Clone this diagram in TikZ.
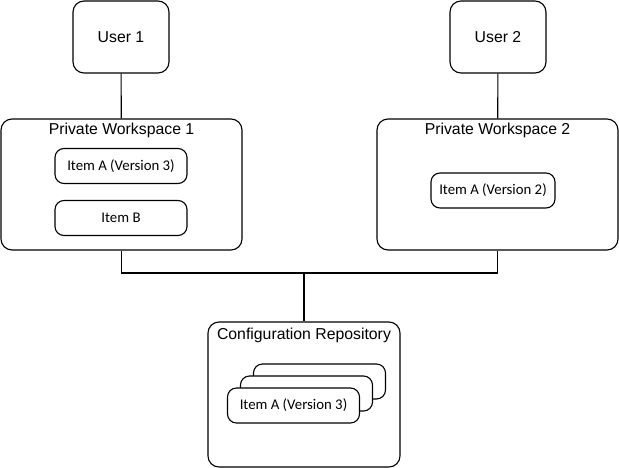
\documentclass[tikz,border=0pt]{standalone}
\usepackage{fontspec}
\setmainfont{Liberation Sans}
\newfontfamily\itemfont{Carlito}
\usepackage{tikz}
\usetikzlibrary{
  arrows.meta,
  positioning
}

\begin{document}
\begin{tikzpicture}[
    x=1pt, y=-1pt,
    line width=1.1pt,
    font=\fontsize{15.8}{18}\selectfont,
    box/.style={draw, rounded corners=11pt, inner sep=0pt, fill=white},
    user/.style={box, minimum width=96pt, minimum height=72pt},
    space/.style={box, minimum width=241pt, minimum height=131pt},
    item/.style={box, rounded corners=9pt, minimum height=35pt,
                 font=\itemfont\fontsize{14.8}{17}\selectfont},
    title/.style={inner sep=0pt, anchor=north},
  ]
  \useasboundingbox (0,0) rectangle (619,468);

  % Users
  \node[user] (u1) at (121,37) {User 1};
  \node[user] (u2) at (498,37) {User 2};

  % Private workspaces
  \node[space] (pw1) at (121.5,184.5) {};
  \node[title, below=4pt of pw1.north] (pw1t) {Private Workspace 1};
  \node[item, minimum width=132pt] (pa) at (121,166) {Item A (Version 3)};
  \node[item, minimum width=132pt] (pb) at (121,218) {Item B};

  \node[space] (pw2) at (497.5,184.5) {};
  \node[title, below=4pt of pw2.north] (pw2t) {Private Workspace 2};
  \node[item, minimum width=124pt] (qa) at (493,190.5) {Item A (Version 2)};

  % Repository with stacked versions
  \node[box, minimum width=192pt, minimum height=145pt] (repo) at (304,394.5) {};
  \node[title, below=6pt of repo.north] (repot) {Configuration Repository};
  \node[item, minimum width=132pt] (v1) at (319.5,381.5) {};
  \node[item, minimum width=132pt] (v2) at (306.5,393.5) {};
  \node[item, minimum width=132pt] (v3) at (293.5,405.5) {Item A (Version 3)};

  % Connectors
  \coordinate (bus) at (304,273);
  \draw (u1) -- (pw1);
  \draw (u2) -- (pw2);
  \draw (pw1.south) |- (bus) -| (pw2.south);
  \draw (bus) -- (repo.north);

\end{tikzpicture}
\end{document}
